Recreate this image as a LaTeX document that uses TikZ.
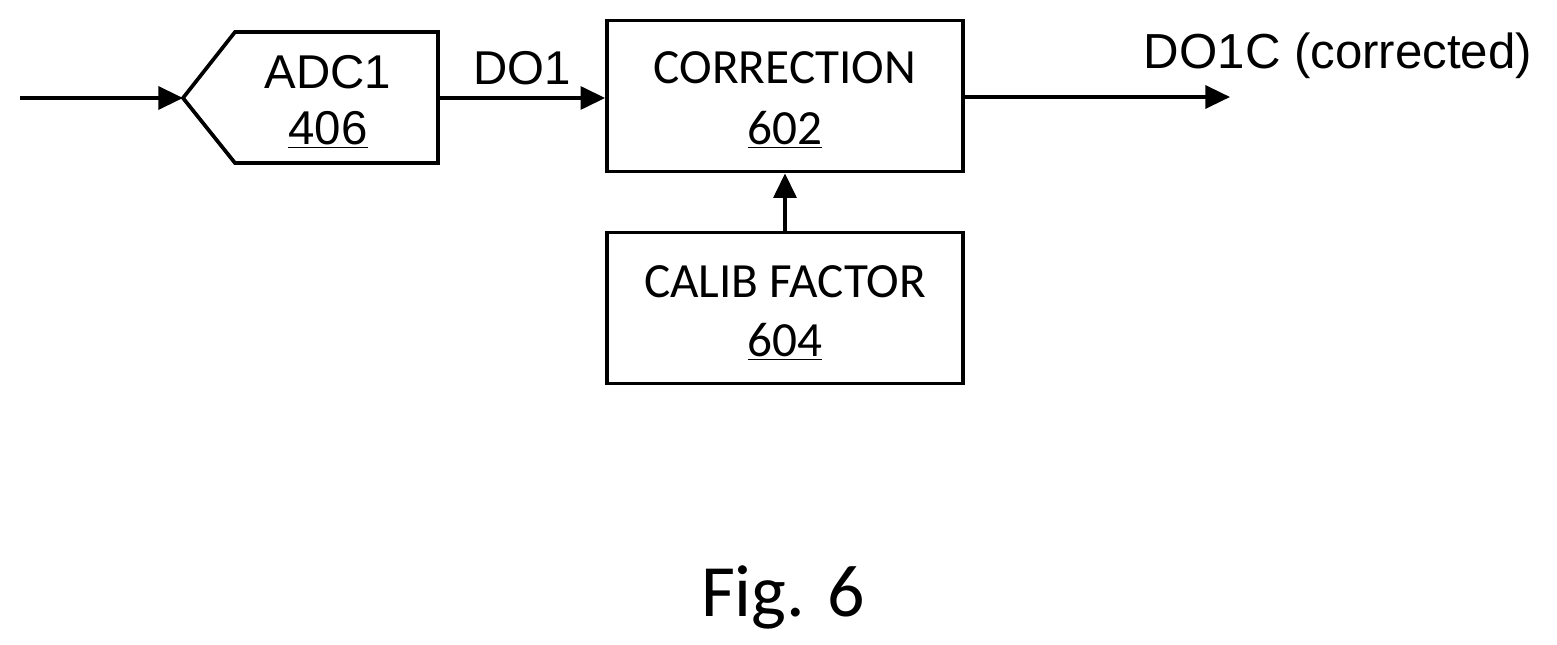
\documentclass[tikz,border=0pt]{standalone}
\usepackage{fontspec}
\setmainfont{Carlito}
\newfontfamily\arialf{Liberation Sans}
\usetikzlibrary{arrows.meta}
\begin{document}
\begin{tikzpicture}[x=0.02cm,y=-0.02cm,
  ln/.style={line width=2.1pt},
  arr/.style={ln,-{Triangle[length=14pt,width=13pt]}},
  box/.style={draw,ln,minimum width=356*0.02cm,minimum height=151*0.02cm,inner sep=0pt},
  txt/.style={font=\fontsize{28}{30}\selectfont,align=center}]
\useasboundingbox (0,0) rectangle (1557,645);
\draw[ln,line join=miter] (183,98) -- (235,32) -- (438,32) -- (438,163) -- (235,163) -- cycle;
\node[txt] (adc) at (328,72) {\arialf\fontsize{27}{30}\selectfont ADC1};
\node[txt] (adcn) at (328,130) {\arialf\fontsize{27}{30}\selectfont\underline{406}};
\coordinate (in) at (20,98);
\coordinate (tip) at (183,98);
\node[box] (cor) at (785,96) {};
\node[txt] at (785,68) {CORRECTION};
\node[txt] at (785,130) {\underline{602}};
\node[box] (cal) at (785,308) {};
\node[txt] at (785,282) {CALIB FACTOR};
\node[txt] at (785,342) {\underline{604}};
\coordinate (out) at (1230,97);
\draw[arr] (in) -- (tip);
\draw[arr] (438,98) -- (cor.west|-0,98);
\draw[arr] (cor.east|-0,97) -- (out);
\draw[arr] (cal.north) -- (cor.south);
\node[font=\arialf\fontsize{27}{30}\selectfont] (do1) at (522,68) {DO1};
\node[font=\arialf\fontsize{28}{30}\selectfont] (do1c) at (1338,56) {DO1C (corrected)};
\node[font=\fontsize{42}{44}\selectfont] (fig) at (783,597) {Fig. 6};
\end{tikzpicture}
\end{document}
